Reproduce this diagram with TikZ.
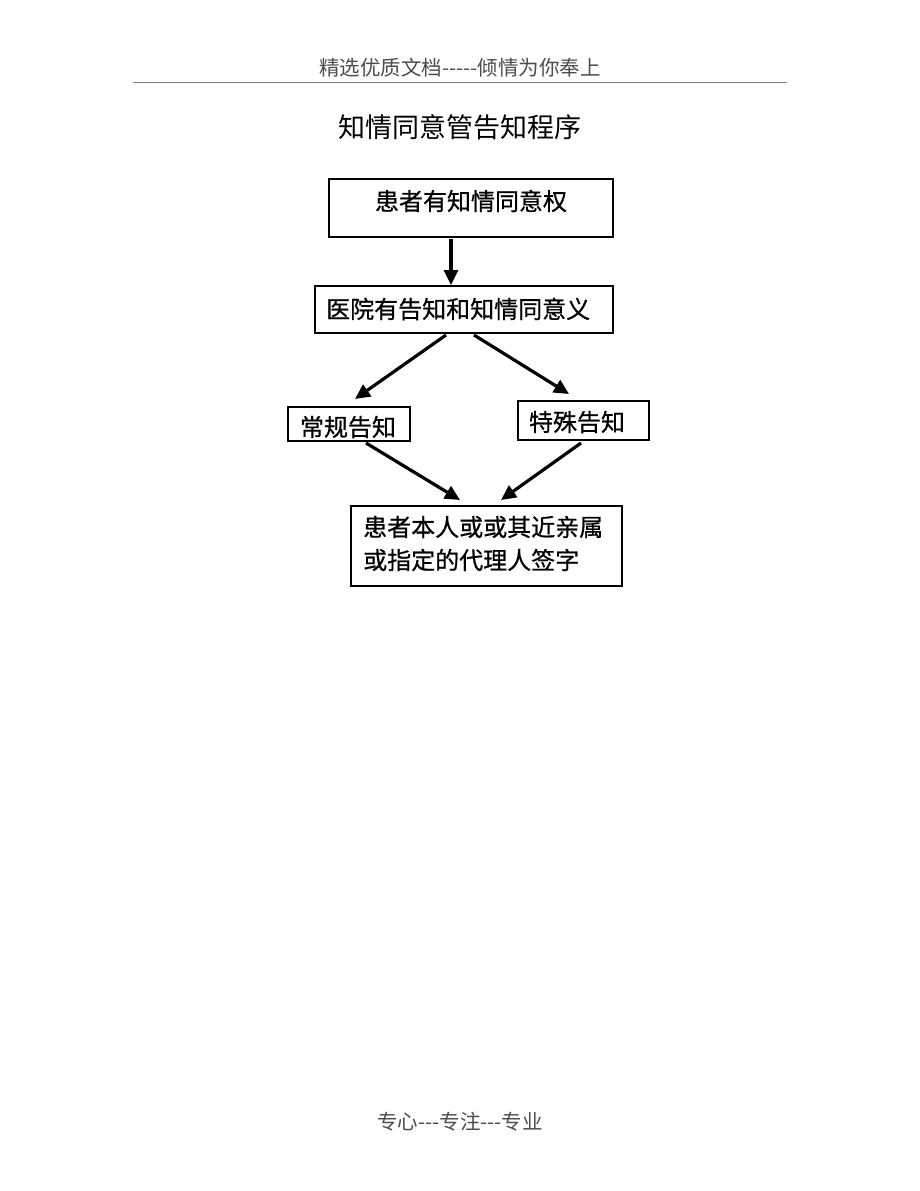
\documentclass[tikz,border=0pt]{standalone}
\usepackage{fontspec}
\setmainfont{Noto Sans CJK SC}[Ligatures=NoCommon]
\newfontfamily\lblfont{Noto Sans CJK SC}[FakeBold=0.7]
\usetikzlibrary{arrows.meta}
\begin{document}
\begin{tikzpicture}[x=1pt,y=-1pt,
  box/.style={draw=black,line width=1.3pt,inner sep=0pt},
  arr/.style={line width=3.2pt,-{Triangle[length=15pt,width=14pt]}},
  lbl/.style={font=\lblfont\fontsize{24}{28}\selectfont,inner sep=0pt,anchor=center}]
\useasboundingbox[fill=white] (0,0) rectangle (920,1191);
% header / footer
\node[font=\fontsize{20.5}{22}\selectfont,text=black!70,inner sep=0pt] (hdr) at (460,68) {精选优质文档{-}{-}{-}{-}{-}倾情为你奉上};
\draw[black!50,line width=1pt] (133,82) coordinate (hl) -- (787,82) coordinate (hr);
\node[font=\fontsize{27}{30}\selectfont,inner sep=0pt] (title) at (460,127) {知情同意管告知程序};
\node[font=\fontsize{20.5}{22}\selectfont,text=black!70,inner sep=0pt] (ftr) at (460,1122) {专心{-}{-}{-}专注{-}{-}{-}专业};
% boxes
\node[box,minimum width=284pt,minimum height=58pt] (b1) at (471,208) {};
\node[lbl] (t1) at (471,201) {患者有知情同意权};
\node[box,minimum width=298pt,minimum height=47pt] (b2) at (464,309.5) {};
\node[lbl,anchor=west] (t2) at (326,309) {医院有告知和知情同意义};
\node[box,minimum width=122pt,minimum height=34pt] (b3) at (349,424) {};
\node[lbl] (t3) at (348,427) {常规告知};
\node[box,minimum width=131pt,minimum height=39pt] (b4) at (583.5,420.5) {};
\node[lbl] (t4) at (577,422) {特殊告知};
\node[box,minimum width=271pt,minimum height=80pt] (b5) at (486.5,546) {};
\node[lbl,anchor=west] (t5a) at (363,527) {患者本人或或其近亲属};
\node[lbl,anchor=west] (t5b) at (363,560) {或指定的代理人签字};
% arrows
\coordinate (a1s) at (451,239); \coordinate (a1e) at (451,285);
\coordinate (a2s) at (446,335); \coordinate (a2e) at (355,399);
\coordinate (a3s) at (474,335); \coordinate (a3e) at (569,394);
\coordinate (a4s) at (366,443); \coordinate (a4e) at (460,500);
\coordinate (a5s) at (581,443); \coordinate (a5e) at (501,500);
\draw[arr] (a1s) -- (a1e);
\draw[arr] (a2s) -- (a2e);
\draw[arr] (a3s) -- (a3e);
\draw[arr] (a4s) -- (a4e);
\draw[arr] (a5s) -- (a5e);
\end{tikzpicture}
\end{document}
